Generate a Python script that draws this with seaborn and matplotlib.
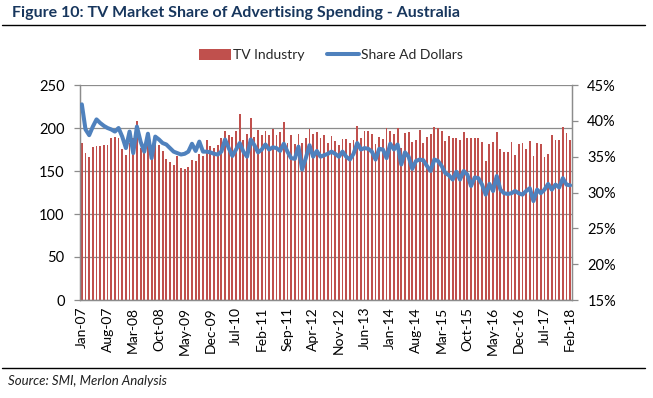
import numpy as np
import pandas as pd
import matplotlib
matplotlib.use("Agg")
import matplotlib.pyplot as plt
from matplotlib.lines import Line2D
from matplotlib.patches import Patch
import seaborn as sns

# ---------------- data ----------------
months = pd.date_range("2007-01-01", periods=134, freq="MS").strftime("%b-%y").tolist()

tv_industry = [
    183, 171, 166, 178, 179, 179, 180, 180, 188, 190,
    188, 176, 169, 183, 188, 208, 177, 171, 194, 169,
    185, 180, 173, 164, 160, 157, 167, 153, 152, 155,
    163, 162, 170, 167, 186, 179, 177, 180, 188, 197,
    192, 190, 197, 216, 186, 193, 212, 190, 198, 192,
    197, 192, 199, 192, 195, 207, 183, 192, 181, 193,
    183, 188, 199, 193, 195, 188, 192, 182, 191, 185,
    180, 187, 187, 182, 186, 202, 188, 197, 197, 193,
    181, 190, 187, 200, 196, 193, 200, 177, 194, 195,
    184, 186, 198, 182, 190, 193, 201, 200, 197, 185,
    191, 188, 188, 186, 195, 188, 188, 188, 188, 184,
    162, 181, 184, 195, 176, 172, 172, 184, 169, 181,
    183, 176, 185, 168, 183, 181, 166, 170, 192, 186,
    186, 201, 194, 186,
]

share_ad_dollars = [
    42.3, 38.8, 38.0, 39.2, 40.2, 39.7, 39.3, 39.0, 38.8, 38.5,
    39.0, 37.8, 36.2, 38.5, 35.5, 39.2, 37.1, 35.7, 38.2, 34.8,
    37.8, 37.4, 36.9, 36.7, 36.2, 35.7, 35.5, 35.3, 35.4, 35.7,
    36.8, 35.8, 37.1, 35.7, 35.7, 35.6, 35.4, 35.3, 35.7, 37.4,
    36.2, 35.1, 36.0, 36.9, 35.7, 35.0, 37.4, 36.6, 35.6, 36.0,
    36.7, 36.0, 36.3, 36.2, 35.8, 36.8, 35.7, 34.8, 34.7, 36.4,
    33.2, 34.8, 36.6, 35.0, 35.8, 35.0, 35.2, 35.4, 35.7, 35.4,
    35.0, 35.7, 35.0, 34.6, 35.4, 36.9, 36.0, 36.2, 36.1, 35.7,
    34.6, 36.1, 36.0, 34.8, 36.8, 36.0, 36.7, 33.9, 35.6, 35.0,
    33.3, 34.4, 34.6, 34.5, 33.7, 33.0, 34.6, 34.4, 33.7, 32.7,
    32.4, 31.8, 32.9, 31.8, 33.0, 32.5, 30.9, 32.1, 32.0, 31.1,
    29.7, 31.2, 30.2, 32.3, 30.4, 29.9, 29.8, 29.9, 30.2, 29.9,
    29.7, 30.2, 30.6, 28.8, 30.4, 29.9, 30.4, 31.2, 30.4, 31.1,
    30.7, 32.0, 31.1, 31.0,
]

x_tick_labels = ["Jan-07", "Aug-07", "Mar-08", "Oct-08", "May-09", "Dec-09", "Jul-10",
                 "Feb-11", "Sep-11", "Apr-12", "Nov-12", "Jun-13", "Jan-14", "Aug-14",
                 "Mar-15", "Oct-15", "May-16", "Dec-16", "Jul-17", "Feb-18"]
left_ticks = [0, 50, 100, 150, 200, 250]
right_ticks = [15, 20, 25, 30, 35, 40, 45]

df = pd.DataFrame({"month": months, "tv": tv_industry, "share": share_ad_dollars})
df["idx"] = np.arange(len(df))

# ---------------- style ----------------
sns.set_style("white")
plt.rcParams["font.family"] = ["Lato", "DejaVu Sans"]

RED = "#C0504D"
BLUE = "#4F81BD"
GRID = "#8C8C8C"
TXT = "#000000"

W, H = 653, 398
fig = plt.figure(figsize=(W / 100, H / 100), dpi=100)
L, R, T, B = 80, 572, 85, 300
ax = fig.add_axes([L / W, 1 - B / H, (R - L) / W, (B - T) / H])

sns.barplot(data=df, x="month", y="tv", color=RED, saturation=1, width=0.5,
            errorbar=None, ax=ax, zorder=2, linewidth=0, edgecolor="none")
ax.set_xlim(-0.5, len(df) - 0.5)
ax.set_ylim(0, 250)
ax.set_yticks(left_ticks)
ax.yaxis.grid(True, color=GRID, linewidth=0.9)
ax.xaxis.grid(False)
ax.set_axisbelow(True)
ax.set_xlabel("")
ax.set_ylabel("")

tick_pos = list(range(0, len(df), 7))
ax.set_xticks(tick_pos)
ax.set_xticklabels(x_tick_labels, rotation=90, fontsize=10, color=TXT)
ax.set_xticks([p - 0.5 for p in tick_pos], minor=True)
ax.tick_params(axis="x", which="major", length=0, pad=5)
ax.tick_params(axis="x", which="minor", length=4, width=0.9, color=GRID, direction="out")
ax.tick_params(axis="y", length=4, width=0.9, color=GRID, direction="out", pad=7,
               labelsize=10.5, labelcolor=TXT)

for s in ["left", "bottom", "right"]:
    ax.spines[s].set_color(GRID)
    ax.spines[s].set_linewidth(0.9)
ax.spines["top"].set_visible(False)

ax2 = ax.twinx()
sns.lineplot(data=df, x="idx", y="share", color=BLUE, linewidth=2.9, ax=ax2, zorder=3)
ax2.set_ylim(15, 45)
ax2.set_yticks(right_ticks)
ax2.set_yticklabels([f"{v}%" for v in right_ticks])
ax2.tick_params(axis="y", length=4, width=0.9, color=GRID, direction="out", pad=7,
                labelsize=10.5, labelcolor=TXT)
ax2.set_xlim(-0.5, len(df) - 0.5)
ax2.set_ylabel("")
ax2.set_xlabel("")
ax2.grid(False)
for s in ["left", "bottom", "right"]:
    ax2.spines[s].set_color(GRID)
    ax2.spines[s].set_linewidth(0.9)
ax2.spines["top"].set_visible(False)

# ---------------- legend ----------------
handles = [Patch(facecolor=RED, edgecolor="none"),
           Line2D([0], [0], color=BLUE, linewidth=2.9)]
fig.legend(handles, ["TV Industry", "Share Ad Dollars"], loc="center",
           bbox_to_anchor=(331 / W, 1 - 55 / H), ncol=2, frameon=False,
           fontsize=10, handlelength=2.3, handleheight=0.9, handletextpad=0.15,
           columnspacing=1.6)

# ---------------- title / source ----------------
fig.text(12 / W, 1 - 13 / H, "Figure 10: TV Market Share of Advertising Spending - Australia",
         fontsize=11.5, fontweight="bold", color="#17365D", va="center", ha="left")
fig.add_artist(Line2D([2 / W, 645 / W], [1 - 25 / H] * 2, color="black", linewidth=1.0))
fig.add_artist(Line2D([2 / W, 645 / W], [1 - 368 / H] * 2, color="black", linewidth=1.0))
fig.text(8 / W, 1 - 381 / H, "Source: SMI, Merlon Analysis", fontsize=9.5, style="italic",
         color="#1F1F1F", va="center", ha="left")

fig.savefig("out.png", dpi=100)
